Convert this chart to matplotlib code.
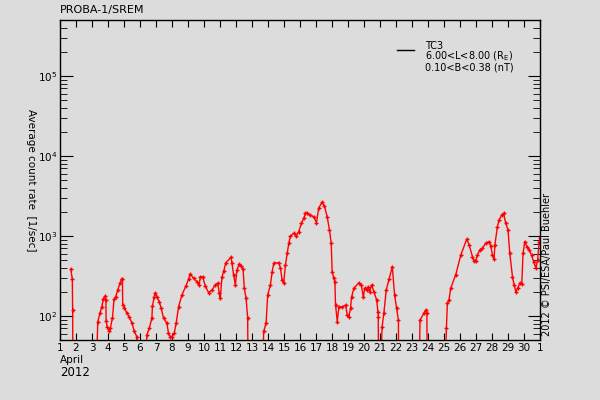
import numpy as np
import matplotlib
matplotlib.use('Agg')
import matplotlib.pyplot as plt
from matplotlib.ticker import LogLocator, FixedLocator

# === Data: TC3 count rate, April 2012 (day of month, counts/sec) ===
# values of 10 are below the plotted range (curve drops off the bottom)
day = [1.67, 1.77, 1.79, 1.81,
       3.23, 3.36, 3.50, 3.61, 3.71, 3.82, 3.87, 3.88, 3.95, 4.05, 4.15, 4.28,
       4.38, 4.48, 4.61, 4.76, 4.86, 4.90, 4.92, 5.03, 5.17, 5.32, 5.49, 5.65,
       5.80, 5.83,
       6.30, 6.43, 6.59, 6.74, 6.78, 6.89, 6.95, 7.05, 7.20, 7.32, 7.47, 7.68,
       7.78, 7.89, 8.00, 8.14, 8.26, 8.41, 8.62, 8.87, 9.04, 9.14, 9.35, 9.56,
       9.70, 9.77, 9.91, 10.08, 10.29, 10.50, 10.70, 10.85, 10.96, 11.02,
       11.12, 11.23, 11.37, 11.69, 11.75, 11.85, 11.96, 12.06, 12.20, 12.32,
       12.44, 12.52, 12.63, 12.73, 12.76,
       13.62, 13.73, 13.88, 13.98, 14.15, 14.26, 14.36, 14.67, 14.78, 14.88,
       14.98, 15.09, 15.20, 15.30, 15.40, 15.61, 15.76, 15.92, 16.09, 16.24,
       16.34, 16.45, 16.65, 16.86, 17.03, 17.17, 17.38, 17.53, 17.70, 17.84,
       17.95, 18.01, 18.11, 18.18, 18.22, 18.33, 18.43, 18.65, 18.85, 18.95,
       19.05, 19.16, 19.22, 19.37, 19.68, 19.83, 19.96, 20.04, 20.16, 20.27,
       20.35, 20.47, 20.62, 20.79, 20.87, 20.89, 20.92,
       21.00, 21.13, 21.24, 21.39, 21.56, 21.77, 21.91, 22.04, 22.15, 22.18,
       23.43, 23.50, 23.75, 23.86, 23.93, 23.96,
       25.03, 25.15, 25.21, 25.31, 25.42, 25.73, 26.05, 26.42, 26.57, 26.78,
       26.88, 26.98, 27.09, 27.24, 27.40, 27.61, 27.82, 27.92, 28.03, 28.13,
       28.18, 28.34, 28.44, 28.60, 28.72, 28.86, 29.00, 29.11, 29.28, 29.38,
       29.49, 29.60, 29.76, 29.86, 29.94, 30.05, 30.18, 30.32, 30.47, 30.60,
       30.74, 30.85, 30.95, 31.00]
rate = [385, 290, 119, 10,
        10, 84, 109, 130, 163, 178, 158, 87, 73, 65, 71, 95,
        163, 174, 211, 260, 290, 290, 137, 126, 109, 98, 82, 64,
        55, 10,
        10, 58, 71, 94, 133, 174, 195, 174, 151, 126, 94, 81,
        61, 55, 55, 61, 81, 130, 183, 237, 290, 335, 295, 268,
        244, 309, 309, 237, 195, 211, 244, 257, 191, 166,
        304, 364, 464, 542, 455, 326, 244, 376, 443, 420,
        383, 222, 166, 93, 10,
        10, 64, 81, 183, 244, 358, 455, 464, 396, 282,
        257, 433, 608, 813, 984, 1080, 1000, 1130, 1440, 1670,
        1920, 1920, 1820, 1730, 1470, 2240, 2630, 2370, 1730, 1190,
        813, 358, 295, 268, 137, 85, 130, 130, 137, 103,
        98, 125, 171, 222, 260, 244, 171, 222, 211, 232,
        201, 244, 201, 158, 113, 98, 10,
        10, 73, 108, 211, 286, 414, 183, 125, 89, 10,
        10, 89, 108, 119, 108, 10,
        10, 70, 144, 158, 222, 326, 577, 910, 772, 551,
        491, 491, 577, 668, 700, 813, 848, 750, 577, 512,
        772, 1310, 1580, 1820, 1920, 1440, 1190, 608, 310, 244,
        201, 222, 260, 250, 608, 848, 735, 668, 577, 478,
        396, 500, 848, 950]

xtick_pos = list(range(1, 32))
xtick_labels = [str(d) for d in range(1, 31)] + ['1']

bg = '#dcdcdc'
plt.rcParams['font.family'] = 'DejaVu Sans'
plt.rcParams['font.size'] = 7.5

fig = plt.figure(figsize=(6, 4), dpi=100, facecolor=bg)
ax = fig.add_axes([0.1, 0.15, 0.8, 0.8], facecolor=bg)

ax.plot(day, rate, color='#ff0000', lw=1, marker='+', ms=3, mew=1)

ax.set_yscale('log')
ax.set_xlim(1, 31)
ax.set_ylim(50, 5e5)
ax.xaxis.set_major_locator(FixedLocator(xtick_pos))
ax.set_xticklabels(xtick_labels)
ax.yaxis.set_major_locator(LogLocator(base=10, numticks=10))
ax.yaxis.set_minor_locator(LogLocator(base=10, subs=np.arange(2, 10), numticks=20))
ax.tick_params(which='both', direction='in', top=True, right=True, colors='black',
               labelsize=7.5)
ax.tick_params(axis='y', which='major', length=9, pad=2)
ax.tick_params(axis='y', which='minor', length=5)
ax.tick_params(axis='x', which='major', length=5, pad=2)
for s in ax.spines.values():
    s.set_linewidth(1)

fig.text(0.052, 0.55, 'Average count rate  [1/sec]', rotation=-90,
         ha='center', va='center', fontsize=7.5)

fig.text(0.1, 0.975, 'PROBA-1/SREM', ha='left', va='center', fontsize=8)
fig.text(0.1, 0.1, 'April', ha='left', va='center', fontsize=7.5)
fig.text(0.1, 0.068, '2012', ha='left', va='center', fontsize=8.5)
fig.text(0.912, 0.16, '2012 © PSI/ESA/Paul Buehler', rotation=90,
         ha='center', va='bottom', fontsize=7)

# legend drawn by hand like the original
fig.add_artist(plt.Line2D([397 / 600, 414 / 600], [1 - 50 / 400] * 2,
                          color='black', lw=1))
fig.text(425 / 600, 1 - 46 / 400, 'TC3', ha='left', va='center', fontsize=7)
fig.text(425 / 600, 1 - 56.5 / 400, r'6.00<L<8.00 (R$_\mathrm{E}$)', ha='left',
         va='center', fontsize=7)
fig.text(425 / 600, 1 - 67 / 400, '0.10<B<0.38 (nT)', ha='left', va='center',
         fontsize=7)

plt.savefig('out.png', dpi=100, facecolor=bg)
